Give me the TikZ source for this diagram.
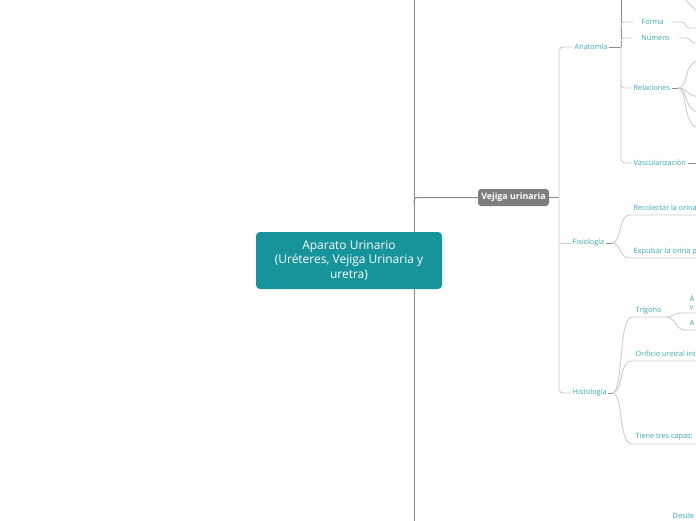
\documentclass[tikz,border=0pt]{standalone}
\usepackage{fontspec}
\setmainfont{Open Sans}
\usetikzlibrary{calc}

\definecolor{rootteal}{HTML}{16939B}
\definecolor{hubgray}{HTML}{7E7E7E}
\definecolor{lbltxt}{HTML}{35A8B1}
\definecolor{litegray}{HTML}{CDCDCD}
\definecolor{darkgray}{HTML}{8C8C8C}

\tikzset{
  rootbox/.style={fill=rootteal, text=white, rounded corners=4pt, minimum width=186pt, minimum height=57pt,
    align=center, font=\fontsize{12}{14.5}\selectfont, inner sep=2pt},
  hubbox/.style={fill=hubgray, text=white, rounded corners=3pt, minimum width=71pt, minimum height=17pt,
    font=\fontsize{8.8}{9}\selectfont\bfseries, inner sep=1pt},
  lbl/.style={text=lbltxt, font=\fontsize{7.3}{8.5}\selectfont, inner sep=1.5pt},
  litelink/.style={draw=litegray, line width=0.9pt},
  darklink/.style={draw=darkgray, line width=1pt}
}

\begin{document}
\begin{tikzpicture}[x=1pt,y=-1pt]
\useasboundingbox (0,0) rectangle (696,520);
\clip (0,0) rectangle (696,520);

% spine
\coordinate (spinetop) at (414,-5);
\coordinate (spinebot) at (414,525);
\draw[darklink] (spinetop) -- (spinebot);

\node[rootbox] (root) at (349,260.5) {Aparato Urinario\\(Uréteres, Vejiga Urinaria y\\uretra)};
\node[hubbox] (vejiga) at (513.5,197.5) {Vejiga urinaria};
\draw[darklink,rounded corners=3pt] (414,205) |- (vejiga.west);

% second level
\node[lbl,anchor=west] (anatomia) at (573,47) {Anatomía};
\node[lbl,anchor=west] (fisiologia) at (571,243) {Fisiología};
\node[lbl,anchor=west] (histologia) at (571,393) {Histología};
\coordinate (hubjoin) at (559,197.5);
\draw[darklink] (vejiga.east) -- (hubjoin);
\draw[litelink,rounded corners=4pt] (anatomia.west) -| (hubjoin) |- (histologia.west);
\draw[litelink] (559,243) -- (fisiologia.west);

% Anatomia
\node[lbl,minimum width=38pt] (forma) at (652.5,22) {Forma};
\node[lbl,minimum width=47pt] (numero) at (655.5,38) {Número};
\node[lbl,anchor=west] (relaciones) at (632,88) {Relaciones};
\node[lbl,anchor=west] (vascular) at (632,163) {Vascularización};
\coordinate (anajoin) at (621,47);
\draw[darklink] (anatomia.east) -- (anajoin);
\draw[darklink] (621,-5) -- (anajoin);
\draw[litelink,rounded corners=4pt] (anajoin) |- (vascular.west);
\draw[litelink,rounded corners=3pt] (621,30) |- (forma.west);
\draw[litelink,rounded corners=3pt] (621,45) |- (numero.west);
\draw[litelink,rounded corners=3pt] (621,80) |- (relaciones.west);
\draw[litelink] (684,-3) .. controls (689,4) and (692,8) .. (700,12);
\draw[litelink] (forma.east) -- (681,22) .. controls (686,22) and (685,28) .. (690,28) -- (700,28);
\draw[litelink] (numero.east) -- (686,38) .. controls (691,38) and (690,43) .. (695,43) -- (700,43);
\coordinate (relfan) at (678,88);
\draw[darklink] (relaciones.east) -- (relfan);
\draw[litelink] (relfan) .. controls (690,88) and (682,61) .. (700,61);
\draw[litelink] (relfan) .. controls (688,88) and (686,96) .. (700,97);
\draw[litelink] (relfan) .. controls (688,88) and (684,112) .. (700,112);
\draw[litelink] (relfan) .. controls (688,88) and (682,128) .. (700,128);
\draw[darklink] (vascular.east) -- (700,163);

% Fisiologia
\node[lbl,anchor=west] (recolectar) at (632,208) {Recolectar la orina};
\node[lbl,anchor=west] (expulsar) at (632,252) {Expulsar la orina p};
\coordinate (fisfan) at (612,243);
\draw[darklink] (fisiologia.east) -- (fisfan);
\draw[litelink] (fisfan) .. controls (622,243) and (618,215) .. (630,215) -- (700,215);
\draw[litelink] (fisfan) .. controls (622,243) and (618,258) .. (630,258) -- (700,258);

% Histologia
\node[lbl,anchor=west] (trigono) at (634,310.5) {Trígono};
\node[lbl,anchor=west] (orificio) at (634,354) {Orificio uretral int};
\node[lbl,anchor=west] (capas) at (634,437) {Tiene tres capas:};
\coordinate (hisfan) at (612,393);
\draw[darklink] (histologia.east) -- (hisfan);
\draw[litelink] (hisfan) .. controls (624,393) and (618,317) .. (632,317) -- (666,317);
\draw[litelink] (hisfan) .. controls (624,393) and (618,361) .. (632,361) -- (700,361);
\draw[litelink] (hisfan) .. controls (624,393) and (618,444) .. (632,444) -- (700,444);

% Trigono
\node[lbl,anchor=west,align=left] (angulos) at (688,302) {Á\\v};
\node[lbl,anchor=west] (apice) at (688,323) {A};
\coordinate (trifan) at (666,317);
\draw[litelink] (trifan) .. controls (674,317) and (672,313) .. (682,313) -- (700,313);
\draw[litelink] (trifan) .. controls (676,317) and (674,330) .. (686,330) -- (700,330);

\node[lbl,anchor=west] (desde) at (671,516) {Desde};
\end{tikzpicture}
\end{document}
